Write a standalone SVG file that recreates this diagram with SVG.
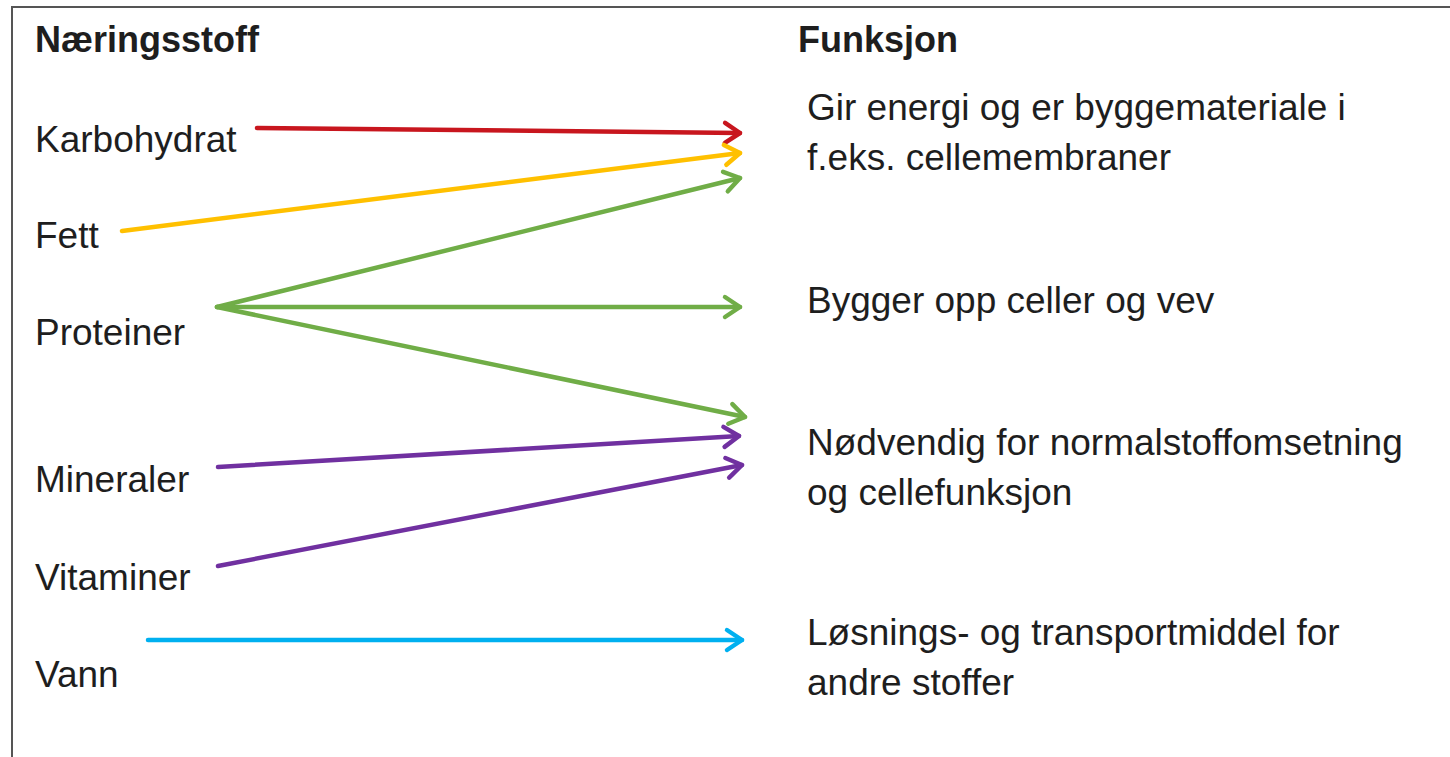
<svg xmlns="http://www.w3.org/2000/svg" width="1450" height="757" viewBox="0 0 1450 757">
<style>
text{font-family:"Liberation Sans",Arial,sans-serif;font-size:37px;fill:#1e1e1e}
.h{font-weight:bold;font-size:36px}
.c{fill:none;stroke-width:4.5;stroke-linecap:round}
</style>
<defs>
<marker id="aR" markerUnits="userSpaceOnUse" markerWidth="40" markerHeight="40" viewBox="-20 -20 40 40" refX="0" refY="0" orient="auto"><path d="M-15,-10 L0,0 L-15,10" fill="none" stroke="#C8161E" stroke-width="4.5" stroke-linecap="round" stroke-linejoin="round"/></marker>
<marker id="aY" markerUnits="userSpaceOnUse" markerWidth="40" markerHeight="40" viewBox="-20 -20 40 40" refX="0" refY="0" orient="auto"><path d="M-15,-10 L0,0 L-15,10" fill="none" stroke="#FFC000" stroke-width="4.5" stroke-linecap="round" stroke-linejoin="round"/></marker>
<marker id="aG" markerUnits="userSpaceOnUse" markerWidth="40" markerHeight="40" viewBox="-20 -20 40 40" refX="0" refY="0" orient="auto"><path d="M-15,-10 L0,0 L-15,10" fill="none" stroke="#70AD47" stroke-width="4.5" stroke-linecap="round" stroke-linejoin="round"/></marker>
<marker id="aP" markerUnits="userSpaceOnUse" markerWidth="40" markerHeight="40" viewBox="-20 -20 40 40" refX="0" refY="0" orient="auto"><path d="M-15,-10 L0,0 L-15,10" fill="none" stroke="#7030A0" stroke-width="4.5" stroke-linecap="round" stroke-linejoin="round"/></marker>
<marker id="aB" markerUnits="userSpaceOnUse" markerWidth="40" markerHeight="40" viewBox="-20 -20 40 40" refX="0" refY="0" orient="auto"><path d="M-15,-10 L0,0 L-15,10" fill="none" stroke="#00B0F0" stroke-width="4.5" stroke-linecap="round" stroke-linejoin="round"/></marker>
</defs>
<rect width="1450" height="757" fill="#fff"/>
<path d="M12,757 L12,7 L1450,7" fill="none" stroke="#555" stroke-width="2"/>
<g id="headers">
<text class="h" x="35" y="52">Næringsstoff</text>
<text class="h" x="798" y="52">Funksjon</text>
</g>
<g id="n-karbohydrat"><text x="35" y="152">Karbohydrat</text></g>
<g id="n-fett"><text x="35" y="248">Fett</text></g>
<g id="n-proteiner"><text x="35" y="345">Proteiner</text></g>
<g id="n-mineraler"><text x="35" y="492">Mineraler</text></g>
<g id="n-vitaminer"><text x="35" y="590">Vitaminer</text></g>
<g id="n-vann"><text x="35" y="687">Vann</text></g>
<g id="f-energi"><text x="807" y="120">Gir energi og er byggemateriale i</text><text x="807" y="170">f.eks. cellemembraner</text></g>
<g id="f-bygger"><text x="807" y="313">Bygger opp celler og vev</text></g>
<g id="f-nodvendig"><text x="807" y="455">Nødvendig for normalstoffomsetning</text><text x="807" y="505">og cellefunksjon</text></g>
<g id="f-losning"><text x="807" y="645">Løsnings- og transportmiddel for</text><text x="807" y="695">andre stoffer</text></g>
<g id="connectors">
<path class="c" stroke="#C8161E" d="M257,128 L740,133" marker-end="url(#aR)"/>
<path class="c" stroke="#FFC000" d="M122,231 L740,153" marker-end="url(#aY)"/>
<path class="c" stroke="#70AD47" d="M217,307 L740,178" marker-end="url(#aG)"/>
<path class="c" stroke="#70AD47" d="M217,307 L740,307" marker-end="url(#aG)"/>
<path class="c" stroke="#70AD47" d="M217,307 L745,417" marker-end="url(#aG)"/>
<path class="c" stroke="#7030A0" d="M218,467 L739,436" marker-end="url(#aP)"/>
<path class="c" stroke="#7030A0" d="M218,566 L742,465" marker-end="url(#aP)"/>
<path class="c" stroke="#00B0F0" d="M148,640 L742,640" marker-end="url(#aB)"/>
</g>
</svg>
